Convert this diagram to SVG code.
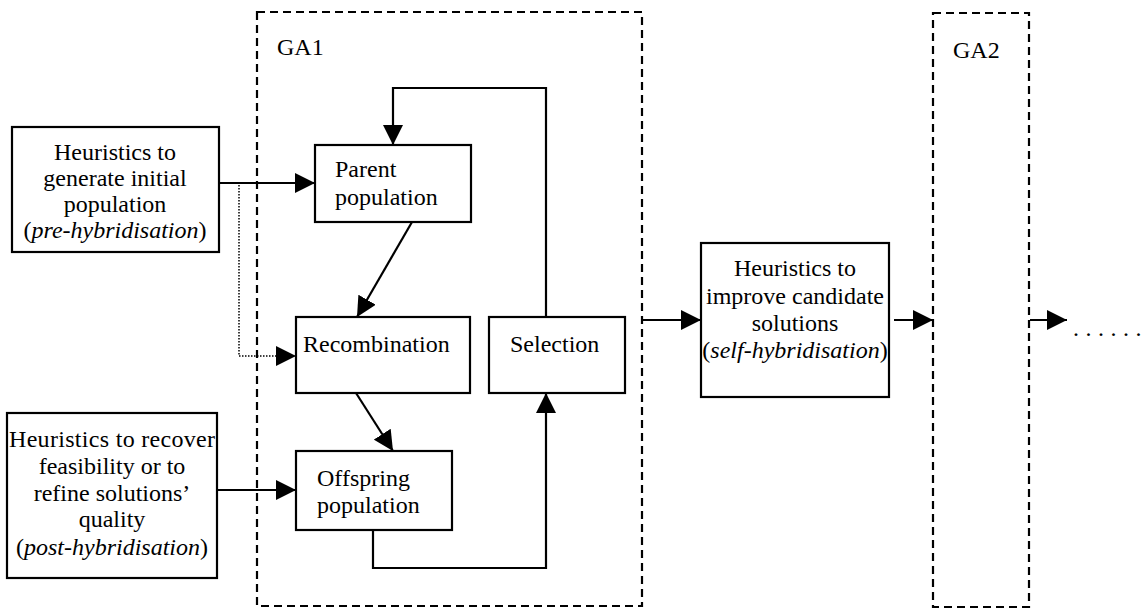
<svg xmlns="http://www.w3.org/2000/svg" width="1146" height="609" viewBox="0 0 1146 609">
  <style>
    text { font-family: "Liberation Serif", "Times New Roman", serif; font-size: 24px; fill: #000; }
    .c { text-anchor: middle; }
    .it { font-style: italic; }
    .box { fill: #fff; stroke: #000; stroke-width: 2.2; }
    .ga { fill: none; stroke: #000; stroke-width: 2.2; stroke-dasharray: 8 5; }
    .wire { fill: none; stroke: #000; stroke-width: 2.2; }
    .dot { fill: none; stroke: #000; stroke-width: 1.5; stroke-dasharray: 1.5 1.5; }
  </style>
  <defs>
    <marker id="head" markerUnits="userSpaceOnUse" markerWidth="20" markerHeight="20" refX="20" refY="10" orient="auto">
      <path d="M0,0 L20,10 L0,20 Z" fill="#000"/>
    </marker>
  </defs>

  <rect width="1146" height="609" fill="#fff"/>

  <!-- GA containers -->
  <g id="ga1">
    <rect class="ga" x="257" y="12" width="385" height="594"/>
    <text x="277" y="55">GA1</text>
  </g>
  <g id="ga2">
    <rect class="ga" x="933" y="13" width="96" height="594"/>
    <text x="953" y="58">GA2</text>
  </g>

  <!-- connectors -->
  <g id="connectors">
    <line class="wire" x1="219" y1="183" x2="315" y2="183" marker-end="url(#head)"/>
    <path class="dot" d="M239,185 V356 H296" marker-end="url(#head)"/>
    <line class="wire" x1="412" y1="222" x2="357" y2="317" marker-end="url(#head)"/>
    <line class="wire" x1="356" y1="393" x2="393" y2="451" marker-end="url(#head)"/>
    <line class="wire" x1="217" y1="490" x2="296" y2="490" marker-end="url(#head)"/>
    <path class="wire" d="M373,530 V568 H546 V393" marker-end="url(#head)"/>
    <path class="wire" d="M546,317 V88 H393 V145" marker-end="url(#head)"/>
    <line class="wire" x1="643" y1="320" x2="701" y2="320" marker-end="url(#head)"/>
    <line class="wire" x1="894" y1="320" x2="933" y2="320" marker-end="url(#head)"/>
    <line class="wire" x1="1030" y1="320" x2="1067" y2="320" marker-end="url(#head)"/>
  </g>

  <!-- pre-hybridisation heuristics -->
  <g id="pre">
    <rect class="box" x="12" y="127" width="207" height="125"/>
    <text class="c" x="115" y="160">Heuristics to</text>
    <text class="c" x="115" y="186">generate initial</text>
    <text class="c" x="115" y="212">population</text>
    <text class="c" x="115" y="238">(<tspan class="it">pre-hybridisation</tspan>)</text>
  </g>

  <!-- post-hybridisation heuristics -->
  <g id="post">
    <rect class="box" x="7" y="413" width="210" height="165"/>
    <text class="c" x="112" y="447" textLength="206" lengthAdjust="spacing">Heuristics to recover</text>
    <text class="c" x="112" y="474">feasibility or to</text>
    <text class="c" x="112" y="501">refine solutions’</text>
    <text class="c" x="112" y="527">quality</text>
    <text class="c" x="112" y="555">(<tspan class="it">post-hybridisation</tspan>)</text>
  </g>

  <g id="parent">
    <rect class="box" x="315" y="145" width="156" height="77"/>
    <text x="335" y="177">Parent</text>
    <text x="335" y="205">population</text>
  </g>

  <g id="recombination">
    <rect class="box" x="296" y="317" width="174" height="76"/>
    <text x="303" y="352">Recombination</text>
  </g>

  <g id="selection">
    <rect class="box" x="489" y="317" width="136" height="76"/>
    <text x="510" y="352">Selection</text>
  </g>

  <g id="offspring">
    <rect class="box" x="296" y="451" width="156" height="79"/>
    <text x="317" y="486">Offspring</text>
    <text x="317" y="513">population</text>
  </g>

  <!-- self-hybridisation heuristics -->
  <g id="self">
    <rect class="box" x="701" y="243" width="188" height="154"/>
    <text class="c" x="795" y="276">Heuristics to</text>
    <text class="c" x="795" y="304">improve candidate</text>
    <text class="c" x="795" y="331">solutions</text>
    <text class="c" x="795" y="358">(<tspan class="it">self-hybridisation</tspan>)</text>
  </g>

  <g id="continuation">
    <text x="1073 1085.5 1098 1110.5 1123 1135.5" y="336">......</text>
  </g>
</svg>
